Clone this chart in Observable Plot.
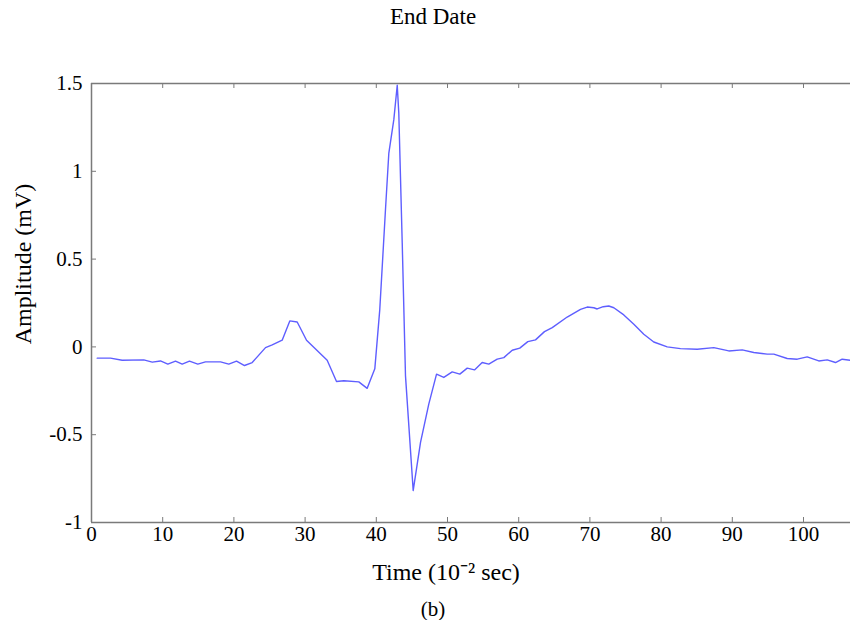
<!DOCTYPE html>
<html><head><meta charset="utf-8">
<script src="https://cdn.jsdelivr.net/npm/d3@7"></script>
<script src="https://cdn.jsdelivr.net/npm/@observablehq/plot@0.6"></script>
<style>
body{margin:0;background:#fff;font-family:"Liberation Serif",serif;color:#000;width:850px;overflow:hidden}
#title{height:33px;line-height:33px;text-align:center;font-size:23px;padding-left:16px;box-sizing:border-box}
#chart svg{display:block;overflow:visible}
#cap{line-height:22px;padding-top:8px;text-align:center;font-size:21px;padding-left:16px;box-sizing:border-box}
</style></head><body>
<div id="title">End Date</div>
<div id="chart"></div>
<div id="cap">(b)</div>
<script>
const time = [0.80,2.67,4.31,7.35,8.53,9.69,10.72,11.80,12.74,13.76,14.93,16.01,18.12,19.28,20.37,21.49,22.57,24.44,25.38,26.78,27.85,28.89,30.20,33.10,34.41,35.44,37.54,38.72,39.79,40.49,41.29,41.76,42.46,42.94,43.16,43.64,44.10,45.18,46.21,47.37,48.46,49.48,50.66,51.73,52.77,53.79,54.87,55.80,56.98,57.91,59.09,60.15,61.28,62.36,63.62,64.71,66.81,68.68,69.62,70.55,71.02,71.87,72.65,73.36,74.76,76.17,77.57,78.97,80.86,82.72,85.07,87.40,89.51,91.39,93.02,94.90,95.83,97.71,99.12,100.52,102.15,103.33,104.49,105.43,106.60];
const amplitude = [-0.064,-0.064,-0.076,-0.074,-0.087,-0.080,-0.098,-0.081,-0.098,-0.081,-0.098,-0.085,-0.085,-0.098,-0.081,-0.106,-0.089,-0.004,0.011,0.038,0.148,0.142,0.038,-0.076,-0.197,-0.193,-0.199,-0.236,-0.125,0.214,0.782,1.104,1.294,1.49,1.331,0.593,-0.165,-0.818,-0.544,-0.326,-0.155,-0.174,-0.142,-0.155,-0.121,-0.131,-0.089,-0.098,-0.070,-0.061,-0.019,-0.007,0.030,0.040,0.087,0.110,0.170,0.214,0.227,0.223,0.216,0.229,0.233,0.223,0.182,0.129,0.072,0.028,0.000,-0.010,-0.013,-0.004,-0.023,-0.017,-0.032,-0.041,-0.041,-0.066,-0.070,-0.057,-0.080,-0.074,-0.089,-0.070,-0.076];
const xTicks = [0,10,20,30,40,50,60,70,80,90,100];
const yTicks = [-1,-0.5,0,0.5,1,1.5];
const xDomain = [0,106.6];
const yDomain = [-1,1.5];
const title = "End Date";
const xLabel = "Time (10\u207B\u00B2 sec)";
const yLabel = "Amplitude (mV)";
const caption = "(b)";

const data = time.map((t,i)=>({t, a: amplitude[i]}));
const axisColor = "#7a7a7a";
const W = 850, H = 557, mT = 50, mB = 68, mL = 91, mR = 0;
const fh = H - mT - mB, fw = W - mL - mR, tk = 5;

const plot = Plot.plot({
  width: W, height: H, marginTop: mT, marginBottom: mB, marginLeft: mL, marginRight: mR,
  style: {fontFamily: "Liberation Serif, serif", fontSize: "21px", background: "#fff", color: "#000", overflow: "visible"},
  x: {domain: xDomain},
  y: {domain: yDomain},
  marks: [
    Plot.ruleX([xDomain[0]], {stroke: axisColor, strokeWidth: 1.5}),
    Plot.ruleY([yDomain[0]], {stroke: axisColor, strokeWidth: 1.5}),
    Plot.ruleY([yDomain[1]], {stroke: axisColor, strokeWidth: 1.5}),
    Plot.tickX(xTicks, {x: d => d, insetTop: fh - tk, stroke: axisColor}),
    Plot.tickX(xTicks, {x: d => d, insetBottom: fh - tk, stroke: axisColor}),
    Plot.tickY(yTicks, {y: d => d, insetRight: fw - tk, stroke: axisColor}),
    Plot.axisX({ticks: xTicks, tickSize: 0, tickPadding: 4, tickFormat: d => String(d), label: null, fontSize: 21}),
    Plot.axisY({ticks: yTicks, tickSize: 0, tickPadding: 9, tickFormat: d => String(d), label: null, fontSize: 21}),
    Plot.text([xLabel], {text: d => d, frameAnchor: "bottom", dx: -25, dy: 50, fontSize: 24, lineAnchor: "middle"}),
    Plot.text([yLabel], {text: d => d, frameAnchor: "left", rotate: -90, textAnchor: "middle", dx: -68, dy: -39, fontSize: 24, lineAnchor: "middle"}),
    Plot.line(data, {x: "t", y: "a", stroke: "#5e5eff", strokeWidth: 1.4})
  ]
});
document.getElementById("chart").appendChild(plot);
document.getElementById("title").textContent = title;
document.getElementById("cap").textContent = caption;
</script>
</body></html>
